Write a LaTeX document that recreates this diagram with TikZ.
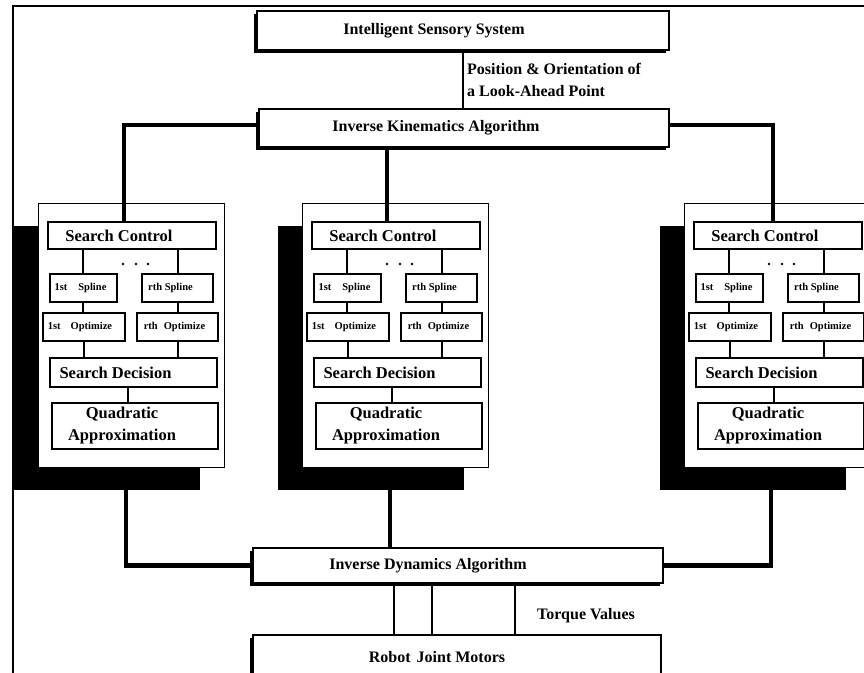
\documentclass[tikz,border=0pt]{standalone}
\usepackage{fontspec}
\setmainfont{Liberation Serif}
\usetikzlibrary{shadows}
\begin{document}
\begin{tikzpicture}[x=1pt,y=-1pt,
  mainbox/.style={draw=black,line width=1.2pt,fill=white,inner sep=0pt,
    general shadow={fill=black,shadow xshift=-3pt,shadow yshift=-3pt},
    font=\bfseries\fontsize{16}{19}\selectfont},
  panel/.style={draw=black,line width=0.9pt,fill=white,inner sep=0pt,
    minimum width=186pt,minimum height=264pt,
    general shadow={fill=black,shadow xshift=-24pt,shadow yshift=-23pt}},
  modbig/.style={draw=black,line width=2.4pt,fill=white,inner sep=0pt,
    font=\bfseries\fontsize{16.5}{22}\selectfont},
  modsmall/.style={draw=black,line width=1.8pt,fill=white,inner sep=0pt,
    minimum height=28pt,font=\bfseries\fontsize{10.5}{12}\selectfont},
  lbl/.style={inner sep=0pt,font=\bfseries\fontsize{16}{22}\selectfont},
  wire/.style={line width=1.1pt},
  bus/.style={line width=4.5pt}]
\useasboundingbox (0,0) rectangle (864,672);
\clip (0,0) rectangle (864,672);
\fill[white] (0,0) rectangle (864,672);
% outer frame
\draw[line width=1.5pt] (13,720) -- (13,6) -- (900,6);

% main boxes
\node[mainbox,minimum width=412pt,minimum height=39pt] (iss) at (463,30.5)
  {Intelligent Sensory System\hspace*{58pt}};
\node[mainbox,minimum width=410pt,minimum height=38pt] (ika) at (464,128)
  {Inverse Kinematics Algorithm\hspace*{56pt}};
\node[mainbox,minimum width=410pt,minimum height=35pt] (ida) at (458,565.5)
  {Inverse Dynamics Algorithm\hspace*{60pt}};
\node[mainbox,minimum width=408pt,minimum height=44pt] (rjm) at (457,657)
  {Robot\hspace{6pt}Joint Motors\hspace*{40pt}};

\node[lbl,anchor=north west,align=left] (pos) at (467,63)
  {Position \& Orientation of\\a Look-Ahead Point};
\node[lbl,anchor=west] (tq) at (537,616) {Torque Values};

% modules
\foreach \n/\dx in {L/0,C/264,R/646}{
  \begin{scope}[xshift=\dx pt]
    \node[panel] (pan\n) at (131,335) {};
    \node[modbig,minimum width=168pt,minimum height=27pt] (sc\n) at (132,235.5)
      {Search Control\hspace*{26pt}};
    \node[modsmall,minimum width=67pt] (sa\n) at (83.5,288) {1st\hspace{11pt}Spline\hspace*{6pt}};
    \node[modsmall,minimum width=71pt] (sb\n) at (177.5,288) {rth Spline\hspace*{14pt}};
    \node[modsmall,minimum width=82pt] (oa\n) at (84,327) {1st\hspace{10pt}Optimize\hspace*{8pt}};
    \node[modsmall,minimum width=81pt] (ob\n) at (177.5,327) {rth\hspace{6pt}Optimize\hspace*{6pt}};
    \node[modbig,minimum width=167pt,minimum height=29pt] (sd\n) at (133.5,372.5)
      {Search Decision\hspace*{36pt}};
    \node[modbig,minimum width=166pt,minimum height=46pt,align=center] (qa\n) at (135,426)
      {Quadratic\hspace*{26pt}\\Approximation\hspace*{26pt}};
    \foreach \xx in {123,136,148} \fill (\xx,264) circle (1.4pt);
    \draw[wire] (83,0 |- sc\n.south) -- (83,0 |- sa\n.north);
    \draw[wire] (178,0 |- sc\n.south) -- (178,0 |- sb\n.north);
    \draw[wire] (83,0 |- sa\n.south) -- (83,0 |- oa\n.north);
    \draw[wire] (178,0 |- sb\n.south) -- (178,0 |- ob\n.north);
    \draw[wire] (84,0 |- oa\n.south) -- (84,0 |- sd\n.north);
    \draw[wire] (178,0 |- ob\n.south) -- (178,0 |- sd\n.north);
    \draw[wire] (128,0 |- sd\n.south) -- (128,0 |- qa\n.north);
  \end{scope}
}

% connectors
\draw[wire] (iss.south) -- (iss.south |- ika.north);
\draw[bus] (ika.west |- 0,125) -| (124,0 |- scL.north);
\draw[bus] (387,0 |- ika.south) -- (387,0 |- scC.north);
\draw[bus] (ika.east |- 0,125) -| (773,0 |- scR.north);
\draw[bus] (126,0 |- panL.south) |- (ida.west);
\draw[bus] (390,0 |- panC.south) -- (390,0 |- ida.north);
\draw[bus] (771,0 |- panR.south) |- (ida.east);
\draw[wire] (394,0 |- ida.south) -- (394,0 |- rjm.north);
\draw[wire] (432,0 |- ida.south) -- (432,0 |- rjm.north);
\draw[wire] (515,0 |- ida.south) -- (515,0 |- rjm.north);
\end{tikzpicture}
\end{document}
